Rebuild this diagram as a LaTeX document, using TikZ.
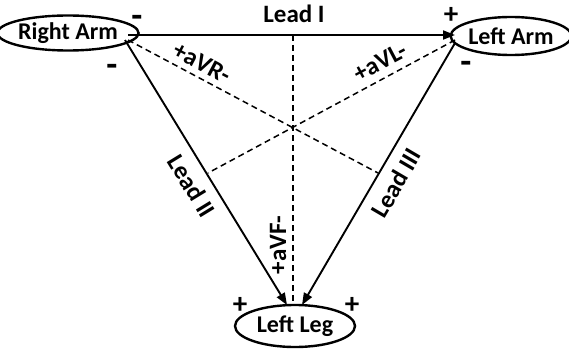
\documentclass[tikz,border=0pt]{standalone}
\usepackage{fontspec}
\setmainfont{Carlito}
\usetikzlibrary{shapes.geometric,arrows.meta}
\tikzset{
  limb/.style={ellipse, draw, line width=2.4pt, inner sep=0pt, font=\fontsize{24}{28}\selectfont\bfseries},
  lead/.style={line width=1.9pt, -{Triangle[length=12pt,width=9pt]}},
  aug/.style={line width=1.5pt, dash pattern=on 6pt off 4pt},
  lbl/.style={font=\fontsize{25}{28}\selectfont\bfseries, inner sep=0pt},
  minus/.style={font=\fontsize{36}{36}\selectfont\bfseries, inner sep=0pt},
  plus/.style={font=\fontsize{29}{30}\selectfont\bfseries, inner sep=0pt}
}
\begin{document}
\begin{tikzpicture}[x=1pt,y=-1pt]
\useasboundingbox (0,0) rectangle (569,350);
\node[limb, minimum width=121pt, minimum height=35pt] (RA) at (68,33) {Right Arm};
\node[limb, minimum width=114pt, minimum height=38pt] (LA) at (511,36) {Left Arm};
\node[limb, minimum width=120pt, minimum height=42pt] (LL) at (295,326) {Left Leg};
% endpoints
\coordinate (ra1) at (128,35);
\coordinate (ra2) at (125,40);
\coordinate (ra3) at (128,40);
\coordinate (la1) at (455,35);
\coordinate (la2) at (455,43);
\coordinate (la3) at (455,40);
\coordinate (ll1) at (287,305);
\coordinate (ll2) at (302,305);
\coordinate (vtop) at (293,35);
\coordinate (vbot) at (293,305);
\coordinate (r3) at (378,173);
\coordinate (l2) at (208,173);
% leads
\draw[lead] (ra1) -- (la1);
\draw[lead] (ra2) -- (ll1);
\draw[lead] (la2) -- (ll2);
% augmented
\draw[aug] (vtop) -- (vbot);
\draw[aug] (ra3) -- (r3);
\draw[aug] (la3) -- (l2);
% labels
\node[lbl] (L1) at (294,14) {Lead I};
\node[lbl, rotate=-58.6] (L2) at (192,186) {Lead II};
\node[lbl, rotate=59.7] (L3) at (396,183) {Lead III};
\node[lbl, rotate=-27.8] (aVR) at (202,63) {+aVR-};
\node[lbl, rotate=27.8] (aVL) at (380,62) {+aVL-};
\node[lbl, rotate=90] (aVF) at (278,245) {+aVF-};
% signs
\node[minus] (s1) at (137,21) {-};
\node[minus] (s2) at (112,70) {-};
\node[plus] (s3) at (451,15) {+};
\node[minus] (s4) at (466,67) {-};
\node[plus] (s5) at (240,305) {+};
\node[plus] (s6) at (352,305) {+};
\end{tikzpicture}
\end{document}
